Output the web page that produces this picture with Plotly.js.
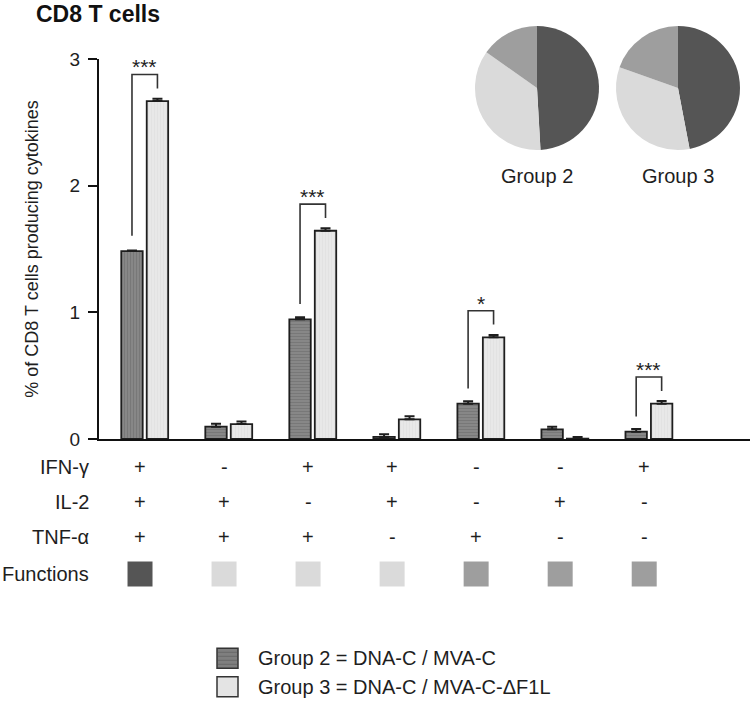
<!DOCTYPE html>
<html>
<head>
<meta charset="utf-8">
<script src="https://cdn.plot.ly/plotly-3.0.1.min.js"></script>
<style>html,body{margin:0;padding:0;background:#fff;}#chart{width:755px;height:706px;}</style>
</head>
<body>
<div id="chart"></div>
<script>
// ---- data ----
const groups = [0, 1, 2, 3, 4, 5, 6];
const group2Values = [1.484, 0.097, 0.945, 0.016, 0.279, 0.076, 0.058];
const group2Errors = [0.004, 0.024, 0.016, 0.021, 0.019, 0.021, 0.021];
const group3Values = [2.668, 0.118, 1.644, 0.155, 0.803, 0.003, 0.279];
const group3Errors = [0.018, 0.020, 0.019, 0.024, 0.018, 0.012, 0.021];
const significance = ['***', '', '***', '', '*', '', '***'];
const ifng = ['+', '-', '+', '+', '-', '-', '+'];
const il2 = ['+', '+', '-', '+', '-', '+', '-'];
const tnfa = ['+', '+', '+', '-', '+', '-', '-'];
const functionCount = [3, 2, 2, 2, 1, 1, 1];
const pieLabels = ['3 functions', '2 functions', '1 function'];
const pieGroup2 = [49.1, 35.7, 15.2];
const pieGroup3 = [47.0, 33.4, 19.6];
const rowLabels = ['IFN-γ', 'IL-2', 'TNF-α', 'Functions'];
const yTicks = [0, 1, 2, 3];
const seriesNames = ['Group 2 = DNA-C / MVA-C', 'Group 3 = DNA-C / MVA-C-ΔF1L'];
const pieTitles = ['Group 2', 'Group 3'];

// ---- styling / layout helpers ----
const FONT = 'Liberation Sans, Arial, Helvetica, sans-serif';
const W = 755, H = 706;
const M = {l: 99, r: 5, t: 20, b: 267};
const plotW = W - M.l - M.r, plotH = H - M.t - M.b;
const px = v => (v - M.l) / plotW;           // pixel x -> paper
const py = v => (H - M.b - v) / plotH;        // pixel y -> paper
const funcColor = {3: '#555555', 2: '#dadada', 1: '#9e9e9e'};
const barW = 0.255, darkOff = -0.279, lightOff = 0.024;
const darkCenter = darkOff + barW / 2, lightCenter = lightOff + barW / 2;
const ink = '#1e1e1e';

const traces = [
  {
    type: 'bar', name: seriesNames[0], x: groups, y: group2Values,
    offset: darkOff, width: barW, showlegend: false,
    marker: {color: '#878787', line: {color: ink, width: 1.8},
      pattern: {shape: groups.map(i => i === 0 ? '|' : '-'), fgcolor: '#6a6a6a', bgcolor: '#878787',
        fillmode: 'overlay', size: 3, solidity: 0.35}},
    error_y: {type: 'data', symmetric: false, array: group2Errors, arrayminus: groups.map(() => 0),
      color: ink, thickness: 2, width: 5}
  },
  {
    type: 'bar', name: seriesNames[1], x: groups, y: group3Values,
    offset: lightOff, width: barW, showlegend: false,
    marker: {color: '#e7e7e7', line: {color: ink, width: 1.8},
      pattern: {shape: '|', fgcolor: '#dcdcdc', bgcolor: '#e8e8e8', fillmode: 'overlay', size: 3, solidity: 0.3}},
    error_y: {type: 'data', symmetric: false, array: group3Errors, arrayminus: groups.map(() => 0),
      color: ink, thickness: 2, width: 5}
  },
  {
    type: 'pie', values: pieGroup2, labels: pieLabels, sort: false, direction: 'clockwise', rotation: 0,
    marker: {colors: pieLabels.map((_, k) => funcColor[3 - k]), line: {width: 0}},
    textinfo: 'none', hoverinfo: 'label+percent', showlegend: false,
    domain: {x: [px(475), px(599)], y: [py(150), py(26)]}
  },
  {
    type: 'pie', values: pieGroup3, labels: pieLabels, sort: false, direction: 'clockwise', rotation: 0,
    marker: {colors: pieLabels.map((_, k) => funcColor[3 - k]), line: {width: 0}},
    textinfo: 'none', hoverinfo: 'label+percent', showlegend: false,
    domain: {x: [px(616), px(740)], y: [py(150), py(26)]}
  }
];

const shapes = [];
const annotations = [];

// significance brackets
groups.forEach(i => {
  if (!significance[i]) return;
  const top = group3Values[i] + 0.21;
  shapes.push({type: 'path', xref: 'x', yref: 'y',
    path: `M ${i + darkCenter} ${group2Values[i] + 0.12} L ${i + darkCenter} ${top} L ${i + lightCenter} ${top} L ${i + lightCenter} ${group3Values[i] + 0.1}`,
    line: {color: '#333', width: 1.6}});
  annotations.push({xref: 'x', yref: 'y', x: i, y: top, xanchor: 'center', yanchor: 'bottom', showarrow: false,
    text: significance[i], font: {size: 21, color: ink, family: FONT}, yshift: -6});
});

// table rows
const rowY = [466.7, 501.7, 537, 574];
const rows = [ifng, il2, tnfa];
rowLabels.forEach((lab, r) => {
  annotations.push({xref: 'paper', yref: 'paper', x: px(91), y: py(rowY[r]), xanchor: 'right', yanchor: 'middle',
    showarrow: false, text: lab, font: {size: 20, color: ink, family: FONT}});
});
rows.forEach((row, r) => {
  row.forEach((s, i) => {
    annotations.push({xref: 'x', yref: 'paper', x: i, y: py(rowY[r]), xshift: -4.5, xanchor: 'center', yanchor: 'middle',
      showarrow: false, text: s, font: {size: 20, color: ink, family: FONT}});
  });
});
functionCount.forEach((f, i) => {
  const half = 12.5 / 84.03, c = i - 4.7 / 84.03;
  shapes.push({type: 'rect', xref: 'x', yref: 'paper', x0: c - half, x1: c + half,
    y0: py(rowY[3] + 12.5), y1: py(rowY[3] - 12.5), fillcolor: funcColor[f], line: {width: 0}});
});

// pie titles
pieTitles.forEach((t, k) => {
  annotations.push({xref: 'paper', yref: 'paper', x: px(k === 0 ? 537 : 678), y: py(176),
    xanchor: 'center', yanchor: 'middle',
    showarrow: false, text: t, font: {size: 20, color: ink, family: FONT}});
});

// legend
const legY = [658.3, 686.7];
const legFill = ['#7f7f7f', '#e4e4e4'];
seriesNames.forEach((n, k) => {
  shapes.push({type: 'rect', xref: 'paper', yref: 'paper', x0: px(217), x1: px(238),
    y0: py(legY[k] + 10), y1: py(legY[k] - 10), fillcolor: legFill[k], line: {color: '#333', width: 1.5}});
  annotations.push({xref: 'paper', yref: 'paper', x: px(256), y: py(legY[k]), xanchor: 'left', yanchor: 'middle',
    showarrow: false, text: n, font: {size: 20, color: ink, family: FONT}});
});
// faint stripes inside the dark legend swatch
[-6, -2, 2, 6].forEach(d => {
  shapes.push({type: 'line', xref: 'paper', yref: 'paper', x0: px(218), x1: px(237),
    y0: py(legY[0] + d), y1: py(legY[0] + d), line: {color: '#6a6a6a', width: 1}});
});

const layout = {
  width: W, height: H, margin: M, paper_bgcolor: '#fff', plot_bgcolor: '#fff',
  font: {family: FONT, color: ink},
  title: {text: '<b>CD8 T cells</b>', font: {size: 23, color: '#111', family: FONT},
    x: 36 / W, xref: 'container', xanchor: 'left', y: 1 - 14 / H, yref: 'container', yanchor: 'middle'},
  xaxis: {range: [-0.544, 7.203], showline: true, linecolor: '#111', linewidth: 2,
    showticklabels: false, ticks: '', showgrid: false, zeroline: false, fixedrange: true},
  yaxis: {domain: [0, py(59)], range: [0, 3], tickvals: yTicks, ticktext: yTicks.map(String),
    showline: true, linecolor: '#111', linewidth: 2, ticks: 'outside', ticklen: 9, tickwidth: 2, tickcolor: '#111',
    showgrid: false, zeroline: false, tickfont: {size: 19, color: ink, family: FONT},
    ticklabelstandoff: 4,
    title: {text: '% of CD8 T cells producing cytokines', font: {size: 18, color: ink, family: FONT}, standoff: 26}},
  shapes: shapes, annotations: annotations, showlegend: false
};

Plotly.newPlot('chart', traces, layout, {displayModeBar: false, staticPlot: true});
</script>
</body>
</html>
